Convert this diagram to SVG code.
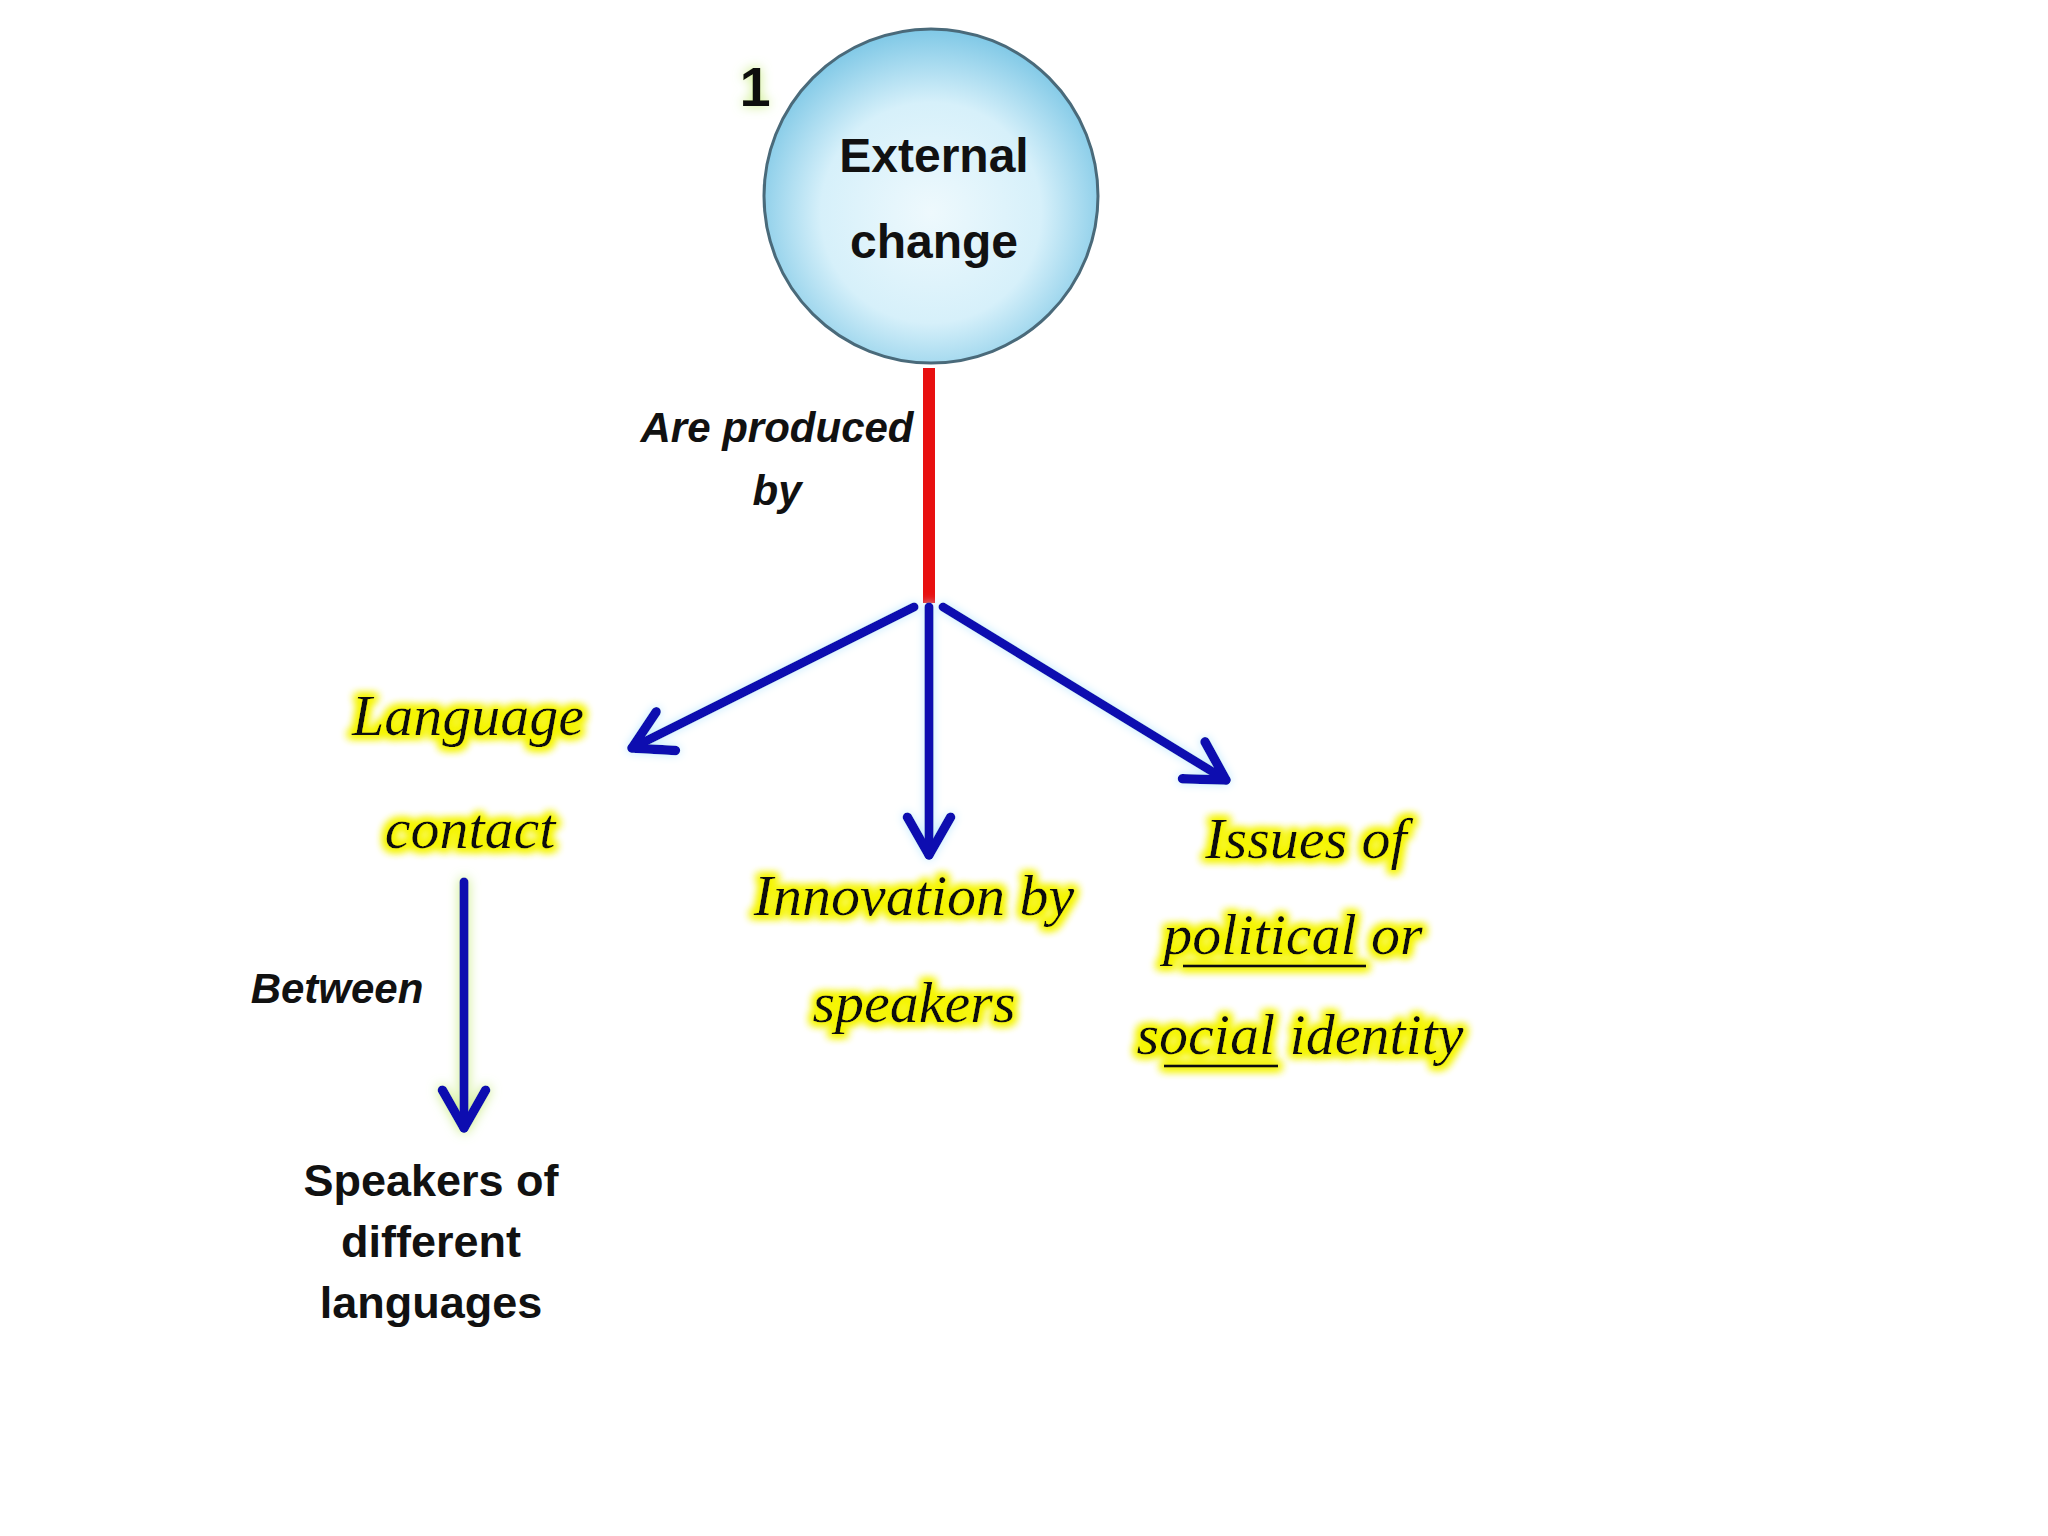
<svg xmlns="http://www.w3.org/2000/svg" width="2048" height="1536" viewBox="0 0 2048 1536">
<defs>
<radialGradient id="cg" cx="50%" cy="55%" r="55%">
<stop offset="0" stop-color="#eef9fd"/><stop offset="0.6" stop-color="#d6f0fa"/><stop offset="1" stop-color="#7fc8e6"/>
</radialGradient>
<filter id="yglow" x="-20%" y="-40%" width="140%" height="180%">
<feMorphology in="SourceAlpha" operator="dilate" radius="3" result="d"/>
<feGaussianBlur in="d" stdDeviation="4" result="b"/>
<feFlood flood-color="#f5f500"/><feComposite in2="b" operator="in" result="g"/>
<feMerge><feMergeNode in="g"/><feMergeNode in="g"/><feMergeNode in="SourceGraphic"/></feMerge>
</filter>
<filter id="gglow" filterUnits="userSpaceOnUse" x="0" y="0" width="2048" height="1536">
<feGaussianBlur in="SourceAlpha" stdDeviation="6" result="b"/>
<feFlood flood-color="#c8ec80"/><feComposite in2="b" operator="in" result="g"/>
<feMerge><feMergeNode in="g"/><feMergeNode in="SourceGraphic"/></feMerge>
</filter>
<filter id="bglow" filterUnits="userSpaceOnUse" x="0" y="0" width="2048" height="1536">
<feGaussianBlur in="SourceAlpha" stdDeviation="5" result="b"/>
<feFlood flood-color="#bfeaff"/><feComposite in2="b" operator="in" result="g"/>
<feMerge><feMergeNode in="g"/><feMergeNode in="SourceGraphic"/></feMerge>
</filter>
<marker id="ah" viewBox="0 0 20 20" refX="16" refY="10" markerWidth="6" markerHeight="6" orient="auto" markerUnits="strokeWidth">
<path d="M2,2 L16,10 L2,18" fill="none" stroke="#1010b0" stroke-width="3.5" stroke-linecap="round" stroke-linejoin="round"/>
</marker>
<style>
.sans{font-family:"Liberation Sans",Arial,sans-serif;font-weight:bold;fill:#111;text-anchor:middle}
.lab{font-family:"Liberation Sans",Arial,sans-serif;font-weight:bold;font-style:italic;fill:#111;text-anchor:middle;font-size:42px}
.scr{font-family:"Liberation Serif",serif;font-style:italic;fill:#111;text-anchor:middle;font-size:58px}
.arr{stroke:#1010b0;stroke-width:9;fill:none;stroke-linecap:round;marker-end:url(#ah)}
</style>
</defs>
<rect width="2048" height="1536" fill="#fff"/>
<g id="n1">
<circle cx="931" cy="196" r="167" fill="url(#cg)" stroke="#4a6a7a" stroke-width="3"/>
<text class="sans" x="934" y="172" font-size="48">External</text>
<text class="sans" x="934" y="258" font-size="48">change</text>
<text class="sans" x="755" y="106" font-size="56" filter="url(#gglow)">1</text>
</g>
<g id="connectors">
<line x1="929" y1="368" x2="929" y2="603" stroke="#e81010" stroke-width="12"/>
<g filter="url(#bglow)">
<line class="arr" x1="914" y1="607" x2="632" y2="748"/>
<line class="arr" x1="929" y1="607" x2="929" y2="855"/>
<line class="arr" x1="943" y1="607" x2="1226" y2="780"/>
</g>
<g filter="url(#gglow)">
<line class="arr" x1="464" y1="882" x2="464" y2="1128"/>
</g>
<text class="lab" x="777" y="442">Are produced</text>
<text class="lab" x="777" y="505">by</text>
<text class="lab" x="337" y="1003">Between</text>
</g>
<g id="n2" filter="url(#yglow)">
<text class="scr" x="468" y="735">Language</text>
<text class="scr" x="470" y="848">contact</text>
</g>
<g id="n3" filter="url(#yglow)">
<text class="scr" x="914" y="915">Innovation by</text>
<text class="scr" x="914" y="1022">speakers</text>
</g>
<g id="n4" filter="url(#yglow)">
<text class="scr" x="1306" y="858">Issues of</text>
<text class="scr" x="1293" y="954">political or</text>
<text class="scr" x="1300" y="1054">social identity</text>
<line x1="1183" y1="966" x2="1366" y2="966" stroke="#111" stroke-width="3"/>
<line x1="1164" y1="1066" x2="1278" y2="1066" stroke="#111" stroke-width="3"/>
</g>
<g id="n5">
<text class="sans" x="431" y="1196" font-size="45">Speakers of</text>
<text class="sans" x="431" y="1257" font-size="45">different</text>
<text class="sans" x="431" y="1318" font-size="45">languages</text>
</g>
</svg>
